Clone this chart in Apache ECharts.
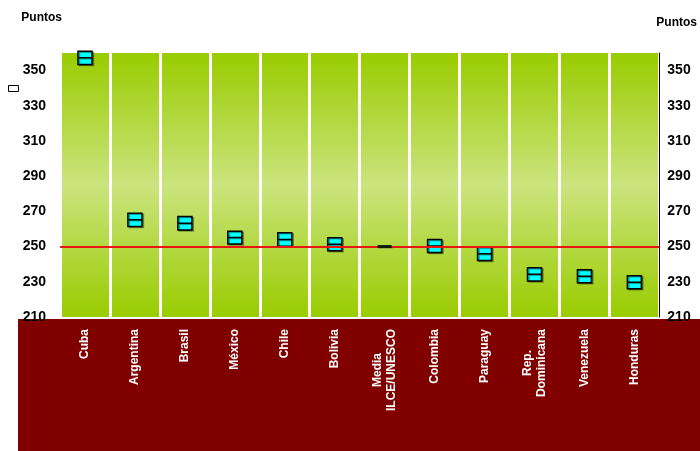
<!DOCTYPE html>
<html>
<head>
<meta charset="utf-8">
<script src="https://cdn.jsdelivr.net/npm/echarts@6/dist/echarts.min.js"></script>
<style>
  html, body { margin: 0; padding: 0; background: #fff; }
  #chart { width: 700px; height: 451px; }
</style>
</head>
<body>
<div id="chart"></div>
<script>
// Puntajes por país (media y banda del intervalo)
const paises = ["Cuba", "Argentina", "Brasil", "México", "Chile", "Bolivia",
    "Media\nILCE/UNESCO", "Colombia", "Paraguay", "Rep.\nDominicana", "Venezuela", "Honduras"];
const medias = [357.3, 265.2, 263.3, 255.1, 254.0, 251.4, 250.0, 250.4, 245.9, 234.3, 233.2, 229.8];
const bajos  = [353.5, 261.4, 259.5, 251.5, 250.2, 247.6, 250.0, 246.6, 242.1, 230.5, 229.4, 226.0];
const altos  = [361.0, 269.0, 267.1, 258.7, 257.8, 255.0, 250.0, 254.1, 249.7, 238.0, 236.9, 233.5];
const referencia = 250;

const fuente = "'Liberation Sans', Arial, sans-serif";

const chart = echarts.init(document.getElementById("chart"));

const boxData = paises.map((p, i) => [bajos[i], bajos[i], medias[i], altos[i], altos[i]]);
// la media regional (sin intervalo) se dibuja como una barra negra plana
const planos = paises.map((p, i) => (bajos[i] === altos[i] ? medias[i] : "-"));

const option = {
    animation: false,
    grid: { left: 60, right: 40, top: 53, bottom: 134 },
    graphic: [
        {
            type: "rect",
            z: -10,
            shape: { x: 18, y: 319, width: 682, height: 132 },
            style: { fill: "#800000" }
        },
        {
            type: "rect",
            shape: { x: 8.5, y: 85.5, width: 10, height: 6 },
            style: { fill: "#fff", stroke: "#000", lineWidth: 1 }
        }
    ],
    xAxis: {
        type: "category",
        data: paises,
        axisLine: { show: false },
        axisTick: { show: false },
        axisLabel: {
            rotate: 90,
            margin: 12,
            interval: 0,
            color: "#fff",
            fontWeight: "bold",
            fontSize: 12,
            fontFamily: fuente,
            lineHeight: 14,
            formatter: (v) => v.split("\n").map(l => "{c|" + l + "}").join("\n"),
            rich: {
                c: { align: "center", color: "#fff", fontWeight: "bold", fontSize: 12, fontFamily: fuente, lineHeight: 14 }
            }
        },
        splitArea: {
            show: true,
            areaStyle: {
                color: [new echarts.graphic.LinearGradient(0, 0, 0, 1, [
                    { offset: 0, color: "#99cc00" },
                    { offset: 0.5, color: "#cbe47e" },
                    { offset: 1, color: "#99cc00" }
                ])]
            }
        },
        splitLine: { show: true, lineStyle: { color: "#fff", width: 3 } }
    },
    yAxis: [
        {
            type: "value",
            position: "left",
            min: 210,
            max: 360,
            interval: 20,
            name: "Puntos",
            nameLocation: "end",
            nameGap: 29,
            nameTextStyle: { color: "#000", fontWeight: "bold", fontSize: 12, fontFamily: fuente, align: "right", padding: [0, -2, 0, 0] },
            axisLine: { show: false },
            axisTick: { show: false },
            splitLine: { show: false },
            axisLabel: { showMaxLabel: false, color: "#000", fontWeight: "bold", fontSize: 14, fontFamily: fuente, margin: 14 }
        },
        {
            type: "value",
            position: "right",
            min: 210,
            max: 360,
            interval: 20,
            name: "Puntos",
            nameLocation: "end",
            nameGap: 24,
            nameTextStyle: { color: "#000", fontWeight: "bold", fontSize: 12, fontFamily: fuente, align: "left", padding: [0, 0, 0, -3] },
            axisLine: { show: true, lineStyle: { color: "#000", width: 1 } },
            axisTick: { show: false },
            splitLine: { show: false },
            axisLabel: { showMaxLabel: false, color: "#000", fontWeight: "bold", fontSize: 14, fontFamily: fuente, margin: 8 }
        }
    ],
    series: [
        {
            type: "line",
            z: 2,
            data: [],
            markLine: {
                silent: true,
                symbol: "none",
                label: { show: false },
                lineStyle: { color: "#e8160f", width: 2, type: "solid" },
                data: [{ yAxis: referencia }]
            }
        },
        {
            type: "boxplot",
            z: 4,
            boxWidth: [14, 14],
            data: boxData,
            itemStyle: {
                color: "#00ffff",
                borderColor: "#000",
                borderWidth: 1.5,
                shadowColor: "rgba(0,0,0,0.35)",
                shadowOffsetX: 1.5,
                shadowOffsetY: 1
            }
        },
        {
            type: "scatter",
            z: 5,
            symbol: "rect",
            symbolSize: [14, 3],
            data: planos,
            itemStyle: { color: "#0d1a00", opacity: 1 }
        }
    ]
};

chart.setOption(option);
</script>
</body>
</html>
